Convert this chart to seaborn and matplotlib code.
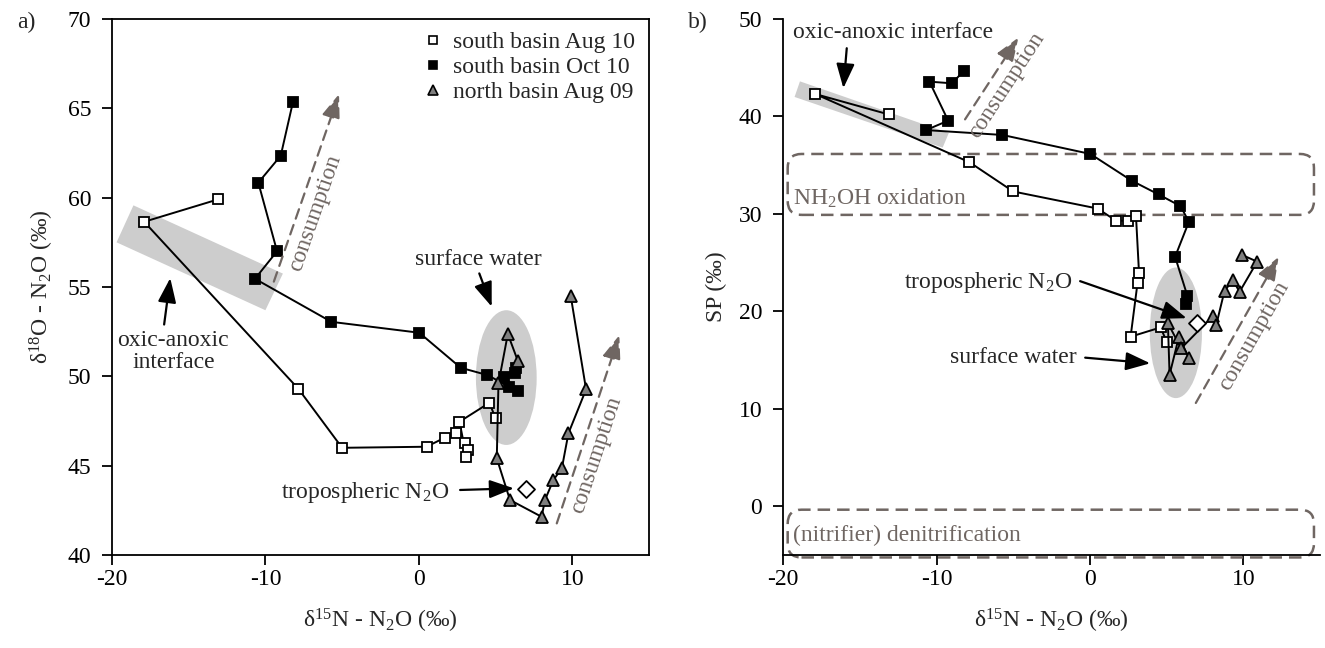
import math
import numpy as np
import pandas as pd
import matplotlib
matplotlib.use("Agg")
import matplotlib.pyplot as plt
import seaborn as sns
from matplotlib.patches import Ellipse, Polygon, FancyBboxPatch
from matplotlib.lines import Line2D

# N2O isotope profiles: d15N (x), d18O (panel a) and site preference SP (panel b)
south_aug10_d15n = [-13.1, -17.9, -7.85, -5.0, 0.5, 1.7, 2.45, 3.0, 3.2, 3.1, 2.65, 4.6, 5.0]
south_aug10_d18o = [59.9, 58.65, 49.3, 46.0, 46.06, 46.57, 46.84, 46.29, 45.88, 45.5, 47.46, 48.52, 47.65]
south_aug10_sp = [40.2, 42.3, 35.3, 32.3, 30.55, 29.3, 29.3, 29.8, 23.9, 22.9, 17.4, 18.35, 16.9]

south_oct10_d15n = [-8.2, -9.0, -10.46, -9.24, -10.68, -5.7, 0.03, 2.73, 4.47, 5.9, 6.45, 5.55, 6.35, 6.27]
south_oct10_d18o = [65.37, 62.35, 60.84, 57.0, 55.46, 53.05, 52.44, 50.48, 50.07, 49.42, 49.19, 49.98, 50.45, 50.17]
south_oct10_sp = [44.7, 43.4, 43.57, 39.57, 38.6, 38.1, 36.15, 33.4, 32.0, 30.8, 29.2, 25.6, 21.6, 20.8]

north_aug09_d15n = [6.45, 5.8, 5.19, 5.08, 5.94, 8.0, 8.23, 8.77, 9.32, 9.75, 10.9, 9.9]
north_aug09_d18o = [50.87, 52.37, 49.6, 45.41, 43.08, 42.14, 43.1, 44.2, 44.85, 46.81, 49.27, 54.5]
north_aug09_sp = [15.2, 17.4, 13.5, 18.8, 16.2, 19.5, 18.6, 22.1, 23.2, 22.0, 25.1, 25.8]

tropo_d15n = [7.0]
tropo_d18o = [43.7]
tropo_sp = [18.8]

series_labels = ["south basin Aug 10", "south basin Oct 10", "north basin Aug 09"]

x_ticks = [-20, -10, 0, 10]
a_y_ticks = [40, 45, 50, 55, 60, 65, 70]
b_y_ticks = [0, 10, 20, 30, 40, 50]

sns.set_theme(style="ticks")
plt.rcParams["font.family"] = ["Liberation Serif", "DejaVu Serif"]
plt.rcParams["mathtext.fontset"] = "custom"
plt.rcParams["mathtext.rm"] = "Liberation Serif"
plt.rcParams["mathtext.it"] = "Liberation Serif:italic"
plt.rcParams["mathtext.bf"] = "Liberation Serif:bold"
plt.rcParams["axes.unicode_minus"] = False

FS = 17
FILL = "#cdcdcd"
PROC = "#6f6662"
TRI = "#7f7f7f"

fig = plt.figure(figsize=(13.25, 6.48), dpi=100)
ax1 = fig.add_axes([0.0845, 0.1435, 0.4053, 0.8272])
ax2 = fig.add_axes([0.591, 0.1435, 0.4053, 0.8272])

styles = [
    (south_aug10_d15n, south_aug10_d18o, south_aug10_sp, "s", "white", 7.3),
    (south_oct10_d15n, south_oct10_d18o, south_oct10_sp, "s", "black", 7.3),
    (north_aug09_d15n, north_aug09_d18o, north_aug09_sp, "^", TRI, 9.0),
]

for ax, col in ((ax1, "d18o"), (ax2, "sp")):
    ax.set_xlim(-20, 15)
    for d15n, d18o, sp, mk, fc, ms in styles:
        df = pd.DataFrame({"d15n": d15n, "d18o": d18o, "sp": sp})
        sns.lineplot(data=df, x="d15n", y=col, sort=False, estimator=None,
                     errorbar=None, ax=ax, color="black", linewidth=1.4,
                     marker=mk, markersize=ms, markerfacecolor=fc,
                     markeredgecolor="black", markeredgewidth=1.3,
                     zorder=3, legend=False)
    tro = pd.DataFrame({"d15n": tropo_d15n, "d18o": tropo_d18o, "sp": tropo_sp})
    sns.scatterplot(data=tro, x="d15n", y=col, ax=ax, marker="D", s=75,
                    color="white", edgecolor="black", linewidth=1.3,
                    zorder=4, legend=False)

ax1.set_ylim(40, 70)
ax2.set_ylim(-5, 50)
fig.canvas.draw()


def arrow(ax, tail, head, color="black", ls="-", lw=1.6):
    ax.annotate("", xy=head, xytext=tail,
                arrowprops=dict(arrowstyle="-|>,head_length=0.75,head_width=0.28",
                                color=color, lw=lw, linestyle=ls,
                                mutation_scale=20, shrinkA=0, shrinkB=0),
                zorder=5)


def consumption(ax, tail, head, text_xy):
    arrow(ax, tail, head, color=PROC, ls=(0, (4.5, 3)), lw=1.6)
    p0 = ax.transData.transform(tail)
    p1 = ax.transData.transform(head)
    ang = math.degrees(math.atan2(p1[1] - p0[1], p1[0] - p0[0]))
    ax.text(*text_xy, "consumption", rotation=ang, rotation_mode="anchor",
            ha="center", va="center", fontsize=FS, color=PROC)


# ---- panel a ----
ax1.add_patch(Ellipse((5.7, 49.93), width=3.96, height=7.54, fc=FILL, ec="none", zorder=1))
ax1.add_patch(Polygon([(-18.6, 59.57), (-8.86, 55.75), (-10.0, 53.7), (-19.7, 57.5)],
                      closed=True, fc=FILL, ec="none", zorder=1))
ax1.text(-16.0, 51.4, "oxic-anoxic\ninterface", ha="center", va="center",
         fontsize=FS, linespacing=1.1)
arrow(ax1, (-16.6, 52.9), (-16.2, 55.5))
ax1.text(3.9, 56.25, "surface water", ha="center", va="baseline", fontsize=FS)
arrow(ax1, (3.94, 55.76), (4.75, 53.9))
ax1.text(2.0, 43.17, "tropospheric N$_2$O", ha="right", va="baseline", fontsize=FS)
arrow(ax1, (2.69, 43.64), (6.2, 43.73))
consumption(ax1, (-9.45, 55.3), (-5.2, 65.8), (-6.77, 59.15))
consumption(ax1, (8.99, 41.77), (13.07, 52.31), (11.6, 45.6))

handles = [
    Line2D([], [], ls="none", marker="s", ms=6, mfc="white", mec="black", mew=1.2),
    Line2D([], [], ls="none", marker="s", ms=6, mfc="black", mec="black", mew=1.2),
    Line2D([], [], ls="none", marker="^", ms=7, mfc=TRI, mec="black", mew=1.2),
]
ax1.legend(handles, series_labels, loc="upper left", bbox_to_anchor=(0.58, 0.976),
           frameon=False, fontsize=FS, handlelength=0.8, handletextpad=0.45,
           labelspacing=0.14, borderpad=0, borderaxespad=0)

ax1.set_xticks(x_ticks)
ax1.set_yticks(a_y_ticks)
ax1.set_xlabel("δ$^{15}$N - N$_2$O (‰)", fontsize=FS, labelpad=12)
ax1.set_ylabel("δ$^{18}$O - N$_2$O (‰)", fontsize=FS, labelpad=8)

# ---- panel b ----
ax2.add_patch(Ellipse((5.6, 17.8), width=3.4, height=13.4, fc=FILL, ec="none", zorder=1))
ax2.add_patch(Polygon([(-18.9, 43.6), (-9.2, 38.3), (-9.6, 36.8), (-19.25, 42.0)],
                      closed=True, fc=FILL, ec="none", zorder=1))
for y0, y1 in ((29.9, 36.15), (-5.25, -0.35)):
    ax2.add_patch(FancyBboxPatch((-19.7, y0), 34.3, y1 - y0,
                                 boxstyle="round,pad=0,rounding_size=0.9",
                                 mutation_aspect=1.6, fill=False, ec=PROC, lw=1.8,
                                 ls=(0, (5, 2.8)), clip_on=False, zorder=2))
ax2.text(-19.35, 30.9, "NH$_2$OH oxidation", ha="left", va="baseline", fontsize=FS, color=PROC)
ax2.text(-19.35, -3.6, "(nitrifier) denitrification", ha="left", va="baseline",
         fontsize=FS, color=PROC)
ax2.text(-12.86, 48.05, "oxic-anoxic interface", ha="center", va="baseline", fontsize=FS)
arrow(ax2, (-15.85, 47.0), (-16.07, 42.9))
ax2.text(-1.18, 22.37, "tropospheric N$_2$O", ha="right", va="baseline", fontsize=FS)
arrow(ax2, (-0.64, 23.1), (6.3, 19.3))
ax2.text(-0.85, 14.67, "surface water", ha="right", va="baseline", fontsize=FS)
arrow(ax2, (-0.31, 15.25), (3.93, 14.67))
consumption(ax2, (-8.14, 39.7), (-4.66, 48.1), (-5.4, 43.2))
consumption(ax2, (6.9, 10.6), (12.3, 25.6), (10.7, 17.5))

ax2.set_xticks(x_ticks)
ax2.set_yticks(b_y_ticks)
ax2.set_xlabel("δ$^{15}$N - N$_2$O (‰)", fontsize=FS, labelpad=12)
ax2.set_ylabel("SP (‰)", fontsize=FS, labelpad=8)
sns.despine(ax=ax2)

for ax in (ax1, ax2):
    ax.tick_params(axis="both", direction="out", length=7, width=1.3,
                   labelsize=FS, color="black", labelcolor="black")
    ax.tick_params(axis="y", pad=8)
    ax.tick_params(axis="x", pad=3)
    for s in ax.spines.values():
        s.set_linewidth(1.3)
        s.set_color("black")

fig.text(0.02, 0.965, "a)", fontsize=FS, ha="center", va="center")
fig.text(0.527, 0.965, "b)", fontsize=FS, ha="center", va="center")

fig.savefig("out.png", dpi=100)
